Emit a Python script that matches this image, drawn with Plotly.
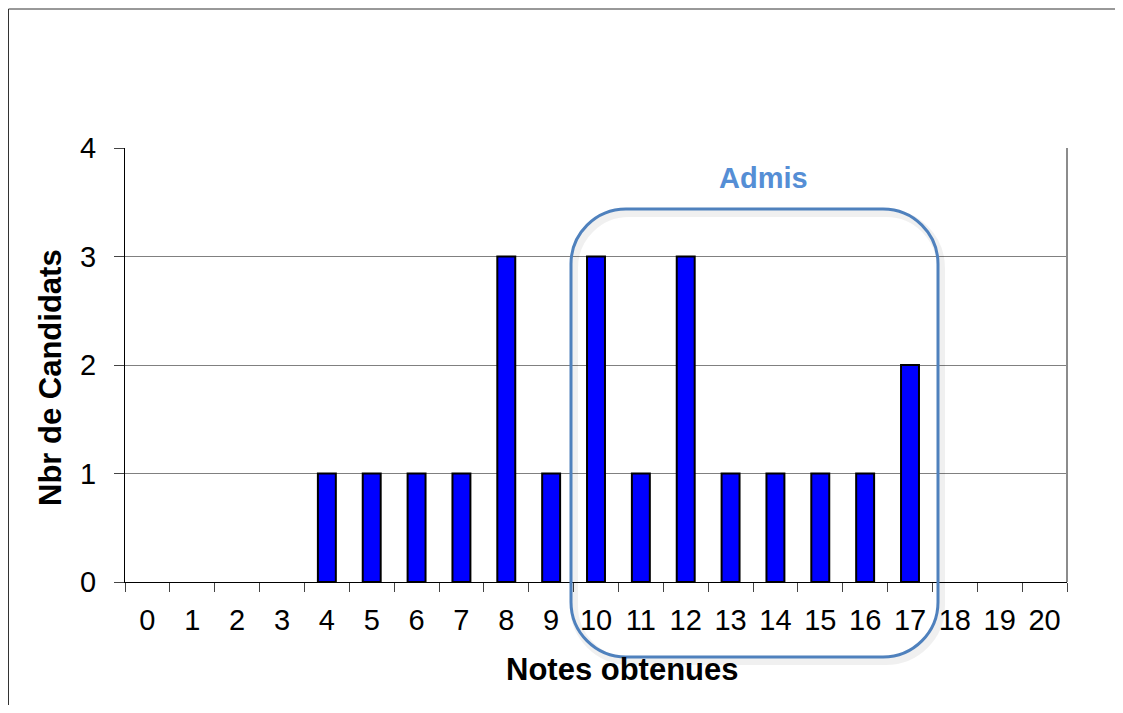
import plotly.graph_objects as go

# Notes et nombre de candidats
notes = [str(n) for n in range(21)]
candidats = [0, 0, 0, 0, 1, 1, 1, 1, 3, 1, 3, 1, 3, 1, 1, 1, 1, 2, 0, 0, 0]

# the page adds an 8px body margin, so the figure is drawn 8px smaller / shifted
OFF = 8
W, H = 1123 - 2 * OFF, 713 - 2 * OFF
L, T = 125 - OFF, 148 - OFF
R = 1123 - 1067 - OFF
B = 713 - 582 - OFF
PW, PH = W - L - R, H - T - B


def px(x):
    return (x - OFF - L) / PW


def py(y):
    return (H - B - (y - OFF)) / PH


def rounded_path(x0, y0, x1, y1, r):
    # rounded rectangle, reference pixel coords -> paper coords
    k = 0.5523 * r
    pts = [
        ("M", [(x0 + r, y0)]),
        ("L", [(x1 - r, y0)]),
        ("C", [(x1 - r + k, y0), (x1, y0 + r - k), (x1, y0 + r)]),
        ("L", [(x1, y1 - r)]),
        ("C", [(x1, y1 - r + k), (x1 - r + k, y1), (x1 - r, y1)]),
        ("L", [(x0 + r, y1)]),
        ("C", [(x0 + r - k, y1), (x0, y1 - r + k), (x0, y1 - r)]),
        ("L", [(x0, y0 + r)]),
        ("C", [(x0, y0 + r - k), (x0 + r - k, y0), (x0 + r, y0)]),
    ]
    s = ""
    for cmd, ps in pts:
        s += cmd + " " + " ".join(f"{px(a):.5f},{py(b):.5f}" for a, b in ps) + " "
    return s + "Z"


fig = go.Figure()
fig.add_trace(go.Bar(
    x=notes, y=candidats,
    marker=dict(color="#0000FF",
                line=dict(color=["black" if v else "rgba(0,0,0,0)" for v in candidats],
                          width=2)),
    hoverinfo="x+y",
))

font = "Liberation Sans, Arial, sans-serif"

fig.update_layout(
    width=W, height=H,
    margin=dict(l=L, r=R, t=T, b=B),
    paper_bgcolor="white", plot_bgcolor="white",
    bargap=0.6,
    showlegend=False,
    font=dict(family=font, size=29, color="black"),
)
fig.update_xaxes(
    type="category",
    tickson="boundaries",
    ticks="outside", ticklen=9, tickcolor="#444", tickwidth=1,
    showline=True, linecolor="black", linewidth=1,
    showgrid=False,
    ticklabelstandoff=12,
    tickfont=dict(size=29),
)
fig.update_yaxes(
    range=[0, 4], dtick=1,
    ticks="outside", ticklen=10, tickcolor="#444", tickwidth=1,
    showline=True, linecolor="black", linewidth=1,
    showgrid=True, gridcolor="#808080", gridwidth=1,
    zeroline=False,
    ticklabelstandoff=12,
    tickfont=dict(size=29),
)

shapes = [
    # bordure de la figure
    dict(type="rect", xref="paper", yref="paper",
         x0=px(8.5), x1=px(1200), y0=py(9), y1=py(800),
         line=dict(color="#333", width=1), layer="below"),
    # bord droit du graphique
    dict(type="line", xref="paper", yref="paper",
         x0=1, x1=1, y0=0, y1=1, line=dict(color="#8c8c8c", width=2)),
    # ombre du cadre "Admis"
    dict(type="path", xref="paper", yref="paper",
         path=rounded_path(574, 213, 941, 661, 55),
         line=dict(color="rgba(0,0,0,0.06)", width=8)),
    # cadre "Admis"
    dict(type="path", xref="paper", yref="paper",
         path=rounded_path(571, 209, 938, 657, 55),
         line=dict(color="#4F81BD", width=3)),
]
fig.update_layout(shapes=shapes)

fig.add_annotation(text="<b>Admis</b>", xref="paper", yref="paper",
                   x=px(763), y=py(178), xanchor="center", yanchor="middle",
                   showarrow=False, font=dict(size=29, color="#558ED5"))
fig.add_annotation(text="<b>Notes obtenues</b>", xref="paper", yref="paper",
                   x=px(622), y=py(669), xanchor="center", yanchor="middle",
                   showarrow=False, font=dict(size=31, color="black"))
fig.add_annotation(text="<b>Nbr de Candidats</b>", xref="paper", yref="paper",
                   x=px(50), y=py(378), xanchor="center", yanchor="middle",
                   showarrow=False, textangle=-90,
                   font=dict(size=31, color="black"))

fig.write_html("out.html")
